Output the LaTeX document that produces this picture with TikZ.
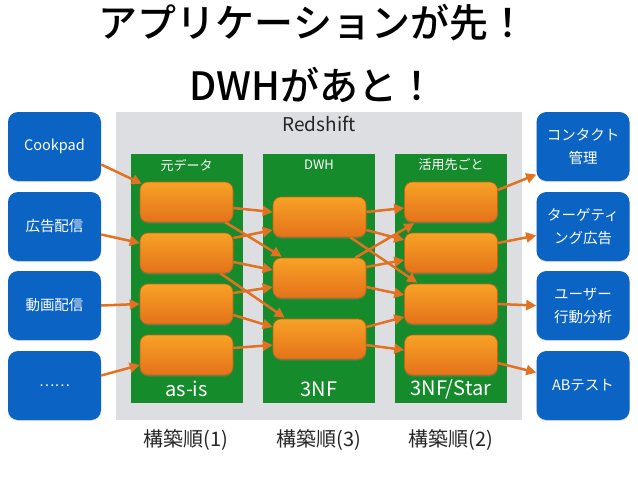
\documentclass[tikz,border=0pt]{standalone}
\usepackage{fontspec}
\setmainfont{Noto Sans CJK JP}
\newfontfamily\titlefont{Noto Sans CJK JP Medium}
\usetikzlibrary{arrows.meta}
\usetikzlibrary{shadows}

\definecolor{srcblue}{RGB}{11,99,196}
\definecolor{stagegreen}{RGB}{22,139,44}
\definecolor{redshiftgray}{RGB}{221,222,225}
\definecolor{tabletop}{RGB}{247,162,38}
\definecolor{tablebottom}{RGB}{228,114,26}
\definecolor{tableline}{RGB}{200,100,20}
\definecolor{flow}{RGB}{226,114,34}

\begin{document}
\begin{tikzpicture}[x=1pt,y=-1pt,
    srcbox/.style={rounded corners=10pt,fill=srcblue,text=white,minimum width=93pt,
      minimum height=69pt,inner sep=0pt,align=center,font=\fontsize{14.5}{23}\selectfont,
      drop shadow={opacity=0.25,shadow xshift=0pt,shadow yshift=-1pt}},
    stage/.style={fill=stagegreen,minimum width=112pt,minimum height=249pt,inner sep=0pt},
    tbl/.style={rounded corners=8pt,top color=tabletop,bottom color=tablebottom,draw=tableline,
      line width=0.6pt,minimum width=93pt,minimum height=40pt,inner sep=0pt,
      drop shadow={opacity=0.45,shadow xshift=0pt,shadow yshift=-1.5pt}},
    head/.style={text=white,font=\fontsize{13}{14}\selectfont},
    foot/.style={text=white,font=\fontsize{20}{22}\selectfont},
    order/.style={text=black!85,font=\fontsize{20}{22}\selectfont},
    flowarrow/.style={draw=flow,line width=2.5pt,-{Triangle[length=10pt,width=10pt]}}]
  \useasboundingbox[fill=white] (0,0) rectangle (638,479);

  % title
  \node[font=\fontsize{39}{40}\titlefont] (title1) at (313,23) {アプリケーションが先！};
  \node[font=\fontsize{39}{40}\titlefont] (title2) at (313,85) {DWHがあと！};

  % Redshift
  \node[fill=redshiftgray,minimum width=406pt,minimum height=308pt,inner sep=0pt] (redshift) at (319,266) {};
  \node[font=\fontsize{19}{20}\selectfont,text=black!85] (redshiftlabel) at (319,124) {Redshift};

  \node[stage] (asis) at (186.5,278.5) {};
  \node[stage] (dwh) at (319,278.5) {};
  \node[stage] (mart) at (451,278.5) {};
  \node[head] (asishead) at (186.5,165) {元データ};
  \node[head] (dwhhead) at (319,165) {DWH};
  \node[head] (marthead) at (451,165) {活用先ごと};
  \node[foot] (asisfoot) at (186.5,389) {as-is};
  \node[foot] (dwhfoot) at (319,389) {3NF};
  \node[foot] (martfoot) at (451,389) {3NF/Star};

  \node[tbl] (a1) at (186.5,202) {};
  \node[tbl] (a2) at (186.5,253) {};
  \node[tbl] (a3) at (186.5,304) {};
  \node[tbl] (a4) at (186.5,355) {};
  \node[tbl] (d1) at (319.5,217) {};
  \node[tbl] (d2) at (319.5,278) {};
  \node[tbl] (d3) at (319.5,339) {};
  \node[tbl] (m1) at (451,202) {};
  \node[tbl] (m2) at (451,253) {};
  \node[tbl] (m3) at (451,304) {};
  \node[tbl] (m4) at (451,355) {};

  % sources and uses
  \node[srcbox] (cookpad) at (54.5,146.5) {Cookpad};
  \node[srcbox] (ads) at (54.5,226.5) {広告配信};
  \node[srcbox] (video) at (54.5,305.5) {動画配信};
  \node[srcbox] (etc) at (54.5,385.5) {……};
  \node[srcbox] (contact) at (583,146.5) {コンタクト\\管理};
  \node[srcbox] (targeting) at (583,226.5) {ターゲティ\\ング広告};
  \node[srcbox] (behavior) at (583,305.5) {ユーザー\\行動分析};
  \node[srcbox] (abtest) at (583,385.5) {ABテスト};

  \node[order] (order1) at (186,440) {構築順(1)};
  \node[order] (order3) at (319,440) {構築順(3)};
  \node[order] (order2) at (451,440) {構築順(2)};

  % load
  \draw[flowarrow] ([yshift=-18pt]cookpad.east) -- ([xshift=2pt,yshift=-2pt]a1.north west);
  \draw[flowarrow] ([yshift=-8pt]ads.east) -- ([yshift=10pt]a2.west);
  \draw[flowarrow] (video.east) -- (a3.west);
  \draw[flowarrow] ([yshift=10pt]etc.east) -- ([yshift=-10pt]a4.west);

  \draw[flowarrow] ([yshift=-6pt]a1.east) -- ([yshift=5pt]d1.west);
  \draw[flowarrow] ([xshift=-8pt]a1.south east) -- ([xshift=9pt,yshift=1pt]d2.north west);
  \draw[flowarrow] ([yshift=15pt]a2.east) -- ([yshift=-13pt]d1.west);
  \draw[flowarrow] ([yshift=-9pt]a2.east) -- ([yshift=8pt]d2.west);
  \draw[flowarrow] ([xshift=-13pt]a2.south east) -- ([xshift=12pt,yshift=1pt]d3.north west);
  \draw[flowarrow] ([yshift=11pt]a3.east) -- ([yshift=-9pt]d2.west);
  \draw[flowarrow] ([yshift=-11pt]a3.east) -- ([yshift=12pt]d3.west);
  \draw[flowarrow] ([yshift=7pt]a4.east) -- ([yshift=-6pt]d3.west);

  \draw[flowarrow] ([yshift=5pt]d1.east) -- ([yshift=-6pt]m1.west);
  \draw[flowarrow] ([yshift=-13pt]d1.east) -- ([yshift=13pt]m2.west);
  \draw[flowarrow] ([xshift=-16pt]d1.south east) -- ([xshift=13pt,yshift=1pt]m3.north west);
  \draw[flowarrow] ([xshift=-11pt]d2.north east) -- ([xshift=10pt,yshift=-1pt]m1.south west);
  \draw[flowarrow] ([yshift=11pt]d2.east) -- ([yshift=-7pt]m2.west);
  \draw[flowarrow] ([yshift=-9pt]d2.east) -- ([yshift=9pt]m3.west);
  \draw[flowarrow] ([yshift=12pt]d3.east) -- ([yshift=-13pt]m3.west);
  \draw[flowarrow] ([yshift=-6pt]d3.east) -- ([yshift=5pt]m4.west);

  \draw[flowarrow] ([yshift=12pt]m1.east) -- ([yshift=-28pt]contact.west);
  \draw[flowarrow] ([yshift=10pt]m2.east) -- ([yshift=-9pt]targeting.west);
  \draw[flowarrow] (m3.east) -- (behavior.west);
  \draw[flowarrow] ([yshift=-8pt]m4.east) -- ([yshift=13pt]abtest.west);
\end{tikzpicture}
\end{document}
